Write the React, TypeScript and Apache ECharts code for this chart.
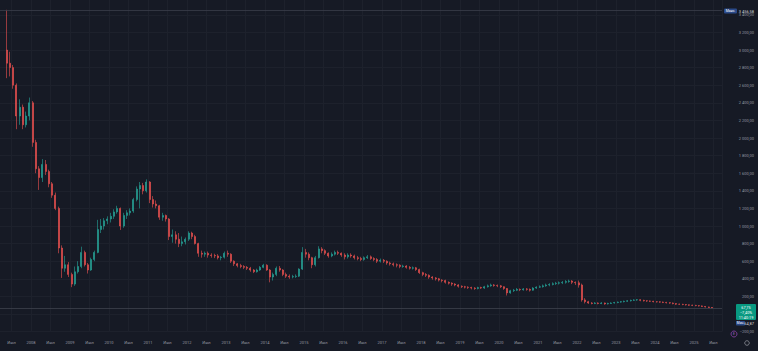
import React, { useEffect, useRef } from 'react';
import * as echarts from 'echarts';

// Monthly candles: [open, close, low, high]
const y2007 = [ // May–Dec
  [3000, 2850, 2680, 3456.58], [2850, 2800, 2700, 2980], [2800, 2600, 2560, 2830], [2600, 2250, 2100, 2620],
  [2250, 2350, 2150, 2440], [2350, 2150, 2100, 2380], [2150, 2250, 2120, 2300], [2250, 2400, 2200, 2460],
];
const y2008 = [
  [2400, 1950, 1900, 2420], [1950, 1650, 1600, 1980], [1650, 1550, 1410, 1680], [1550, 1700, 1500, 1760],
  [1700, 1620, 1580, 1750], [1620, 1480, 1440, 1640], [1480, 1350, 1320, 1500], [1350, 1200, 1180, 1380],
  [1200, 750, 690, 1220], [750, 520, 410, 780], [520, 560, 480, 660], [560, 450, 420, 590],
];
const y2009 = [
  [450, 340, 305, 470], [340, 480, 320, 540], [480, 540, 460, 600], [540, 700, 520, 765],
  [700, 560, 540, 720], [560, 500, 460, 580], [500, 620, 490, 640], [620, 700, 600, 720],
  [700, 960, 690, 1070], [960, 1000, 920, 1080], [1000, 1060, 960, 1090], [1060, 1080, 1020, 1110],
];
const y2010 = [
  [1080, 1110, 1040, 1150], [1110, 1160, 1080, 1190], [1160, 1200, 1140, 1230], [1200, 1000, 955, 1210],
  [1000, 1120, 980, 1150], [1120, 1150, 1080, 1180], [1150, 1170, 1120, 1200], [1170, 1300, 1150, 1320],
  [1300, 1420, 1280, 1450], [1420, 1460, 1200, 1500], [1460, 1400, 1360, 1490], [1400, 1500, 1380, 1530],
];
const y2011 = [
  [1500, 1300, 1260, 1510], [1300, 1250, 1210, 1340], [1250, 1230, 1200, 1290], [1230, 1100, 1070, 1240],
  [1100, 1120, 1060, 1150], [1120, 1080, 1050, 1130], [1080, 880, 840, 1090], [880, 900, 810, 960],
  [900, 850, 800, 940], [850, 800, 760, 920], [800, 820, 770, 880], [820, 850, 790, 870],
];
const y2012 = [
  [850, 920, 830, 940], [920, 880, 850, 935], [880, 800, 790, 900], [800, 690, 650, 810],
  [690, 680, 640, 720], [680, 690, 650, 710], [690, 670, 640, 710], [670, 665, 640, 690],
  [665, 660, 635, 685], [660, 640, 620, 680], [640, 645, 610, 660], [645, 690, 630, 710],
];
const y2013 = [
  [690, 680, 650, 720], [680, 600, 580, 690], [600, 570, 545, 610], [570, 550, 530, 580],
  [550, 540, 520, 570], [540, 530, 510, 555], [530, 520, 500, 545], [520, 500, 480, 535],
  [500, 480, 465, 510], [480, 500, 470, 515], [500, 530, 490, 545], [530, 555, 520, 570],
];
const y2014 = [
  [555, 500, 490, 565], [500, 420, 360, 510], [420, 450, 380, 470], [450, 520, 430, 540],
  [520, 500, 480, 545], [500, 450, 430, 510], [450, 430, 410, 470], [430, 420, 400, 450],
  [420, 425, 405, 445], [425, 430, 410, 450], [430, 510, 420, 520], [510, 700, 500, 760],
];
const y2015 = [
  [700, 680, 640, 740], [680, 640, 610, 700], [640, 560, 520, 650], [560, 640, 540, 660],
  [640, 740, 630, 770], [740, 720, 690, 760], [720, 690, 670, 735], [690, 660, 640, 700],
  [660, 680, 645, 700], [680, 700, 665, 720], [700, 690, 670, 720], [690, 670, 650, 700],
];
const y2016 = [
  [670, 650, 620, 690], [650, 670, 630, 690], [670, 660, 640, 690], [660, 640, 620, 675],
  [640, 630, 610, 660], [630, 620, 600, 650], [620, 640, 605, 655], [640, 650, 625, 670],
  [650, 630, 615, 665], [630, 620, 600, 645], [620, 600, 580, 635], [600, 610, 585, 630],
];
const y2017 = [
  [610, 600, 580, 625], [600, 580, 560, 610], [580, 570, 550, 595], [570, 560, 540, 585],
  [560, 555, 530, 575], [555, 540, 520, 565], [540, 545, 525, 560], [545, 530, 515, 555],
  [530, 520, 505, 545], [520, 525, 505, 540], [525, 505, 490, 535], [505, 470, 455, 515],
];
const y2018 = [
  [470, 450, 430, 480], [450, 440, 420, 465], [440, 420, 400, 450], [420, 410, 390, 430],
  [410, 400, 380, 420], [400, 385, 370, 410], [385, 380, 360, 395], [380, 360, 345, 390],
  [360, 350, 335, 370], [350, 340, 320, 360], [340, 330, 315, 350], [330, 315, 300, 340],
];
const y2019 = [
  [315, 310, 295, 325], [310, 305, 290, 320], [305, 300, 285, 315], [300, 295, 280, 310],
  [295, 290, 275, 305], [290, 300, 280, 310], [300, 295, 285, 310], [295, 310, 285, 320],
  [310, 320, 300, 335], [320, 330, 310, 345], [330, 325, 310, 340], [325, 320, 305, 335],
];
const y2020 = [
  [320, 310, 295, 330], [310, 290, 275, 315], [290, 240, 210, 295], [240, 265, 230, 275],
  [265, 270, 250, 285], [270, 280, 260, 295], [280, 275, 260, 290], [275, 285, 265, 295],
  [285, 280, 265, 295], [280, 270, 255, 290], [270, 295, 265, 305], [295, 305, 285, 315],
];
const y2021 = [
  [305, 310, 295, 325], [310, 320, 300, 335], [320, 330, 310, 345], [330, 335, 315, 350],
  [335, 345, 325, 360], [345, 350, 330, 365], [350, 355, 335, 370], [355, 360, 340, 375],
  [360, 370, 345, 385], [370, 375, 355, 390], [375, 360, 340, 385], [360, 355, 330, 370],
];
const y2022 = [
  [355, 330, 300, 380], [330, 160, 140, 345], [160, 140, 120, 180], [140, 125, 115, 150],
  [125, 120, 110, 135], [120, 125, 112, 135], [125, 120, 110, 132], [120, 125, 112, 135],
  [125, 115, 105, 130], [115, 120, 108, 128], [120, 125, 115, 133], [125, 130, 118, 138],
];
const y2023 = [
  [130, 135, 122, 142], [135, 140, 128, 148], [140, 145, 132, 152], [145, 150, 138, 158],
  [150, 155, 142, 163], [155, 160, 148, 168], [160, 162, 150, 170], [162, 155, 145, 168],
  [155, 150, 142, 162], [150, 148, 138, 156], [148, 145, 136, 153], [145, 140, 132, 150],
];
const y2024 = [
  [140, 138, 130, 147], [138, 135, 127, 144], [135, 132, 124, 141], [132, 128, 120, 138],
  [128, 125, 116, 134], [125, 118, 110, 130], [118, 112, 104, 122], [112, 110, 102, 118],
  [110, 108, 100, 116], [108, 104, 96, 113], [104, 100, 92, 108], [100, 98, 90, 106],
];
const y2025 = [ // Jan–Jun
  [98, 95, 88, 104], [95, 92, 85, 101], [92, 86, 80, 97], [86, 80, 74, 90],
  [80, 74, 68, 84], [74, 67.75, 64.87, 78],
];

// [year, first month index (0 = Jan), rows]
const yearBlocks: [number, number, number[][]][] = [
  [2007, 4, y2007], [2008, 0, y2008], [2009, 0, y2009], [2010, 0, y2010], [2011, 0, y2011],
  [2012, 0, y2012], [2013, 0, y2013], [2014, 0, y2014], [2015, 0, y2015], [2016, 0, y2016],
  [2017, 0, y2017], [2018, 0, y2018], [2019, 0, y2019], [2020, 0, y2020], [2021, 0, y2021],
  [2022, 0, y2022], [2023, 0, y2023], [2024, 0, y2024], [2025, 0, y2025],
];

const maxPrice = 3456.58;
const minPrice = 64.87;
const lastPrice = 67.75;
const lastChange = '−7,40%';
const countdown = '11:40:19';
const midYearLabel = 'Июл';

const BG = '#161a25';
const GRID = '#1d212c';
const LABEL = '#9598a1';
const UP = '#26a69a';
const DOWN = '#ef5350';
const FONT = 'Roboto, "Noto Sans", sans-serif';

const fmtNum = (v: number) => {
  const neg = v < 0;
  const s = Math.abs(v).toFixed(2);
  const [i, d] = s.split('.');
  const ig = i.replace(/\B(?=(\d{3})+(?!\d))/g, ' ');
  return (neg ? '−' : '') + ig + ',' + d;
};

export default function App() {
  const ref = useRef<HTMLDivElement>(null);
  useEffect(() => {
    document.body.style.margin = '0';
    document.body.style.background = BG;
    const chart = echarts.init(ref.current!, null, { renderer: 'svg' });
    const data: number[][] = [];
    yearBlocks.forEach(([year, start, rows]) => {
      rows.forEach((r, i) => {
        data.push([year + (start + i + 0.5) / 12, r[0], r[1], r[2], r[3]]);
      });
    });
    const txt = (text: string, x: number, y: number, align: string, fill: string, size = 4) => ({
      type: 'text', z: 101, x, y,
      style: { text, fill, fontSize: size, fontFamily: FONT, align, verticalAlign: 'middle' },
    });
    chart.setOption({
      animation: false,
      backgroundColor: BG,
      grid: { left: -8, right: 36, top: -2.8, bottom: 19.4, containLabel: false, outerBoundsMode: 'none' },
      xAxis: {
        type: 'value', min: 2007, max: 2025.72, interval: 0.5,
        axisLine: { show: false }, axisTick: { show: false },
        splitLine: { show: true, lineStyle: { color: GRID, width: 1 } },
        axisLabel: {
          color: LABEL, fontSize: 4, fontFamily: FONT, margin: 8.5, showMaxLabel: false,
          formatter: (v: number) => {
            if (v < 2007.25) return '';
            const h = v * 2;
            if (Math.abs(h - Math.round(h)) > 0.05) return '';
            return Math.abs(v - Math.round(v)) > 0.25 ? midYearLabel : String(Math.round(v));
          },
        },
      },
      yAxis: {
        type: 'value', position: 'right', min: -200, max: 3600, interval: 200,
        axisLine: { show: false }, axisTick: { show: false },
        splitLine: { show: true, lineStyle: { color: GRID, width: 1 } },
        axisLabel: {
          color: LABEL, fontSize: 4, fontFamily: FONT, align: 'right', margin: 32,
          formatter: (v: number) => (v === 0 || v >= 3600 ? '' : fmtNum(v)),
        },
      },
      series: [{
        type: 'candlestick',
        data,
        barWidth: 1.5,
        itemStyle: { color: UP, color0: DOWN, borderColor: UP, borderColor0: DOWN, borderWidth: 0.6 },
        markLine: {
          silent: true, symbol: 'none', label: { show: false },
          data: [
            { yAxis: maxPrice, lineStyle: { color: '#3a3e4a', width: 0.8, type: 'solid' } },
            { yAxis: lastPrice, lineStyle: { color: '#3d414c', width: 0.8, type: 'solid' } },
          ],
        },
      }],
      graphic: [
        { type: 'rect', z: 100, shape: { x: 724, y: 8.5, width: 13, height: 5, r: 1 }, style: { fill: '#2a4a8a' } },
        txt('Макс.', 730.5, 11, 'center', '#ffffff', 3.5),
        txt(fmtNum(maxPrice), 754, 11, 'right', '#d1d4dc'),
        { type: 'rect', z: 100, shape: { x: 736, y: 304, width: 20, height: 16, r: 1 }, style: { fill: '#089981' } },
        txt(fmtNum(lastPrice), 746, 307, 'center', '#ffffff', 3.8),
        txt(lastChange, 746, 312, 'center', '#ffffff', 3.8),
        txt(countdown, 746, 317, 'center', '#ffffff', 3.8),
        { type: 'rect', z: 100, shape: { x: 736, y: 321, width: 9, height: 4.5, r: 0.8 }, style: { fill: '#2a4a8a' } },
        txt('Мин.', 740.5, 323.3, 'center', '#ffffff', 3.2),
        txt(fmtNum(minPrice), 754, 323.3, 'right', '#d1d4dc'),
        { type: 'circle', z: 100, shape: { cx: 734, cy: 334, r: 3 }, style: { fill: 'none', stroke: '#8e44ad', lineWidth: 0.8 } },
        txt('E', 734, 334, 'center', '#a66bd0', 3.2),
        { type: 'circle', z: 100, shape: { cx: 747, cy: 343, r: 2.3 }, style: { fill: 'none', stroke: '#8a8d96', lineWidth: 0.8 } },
      ],
    });
    return () => chart.dispose();
  }, []);
  return <div ref={ref} style={{ position: 'fixed', left: 0, top: 0, width: 758, height: 351 }} />;
}
